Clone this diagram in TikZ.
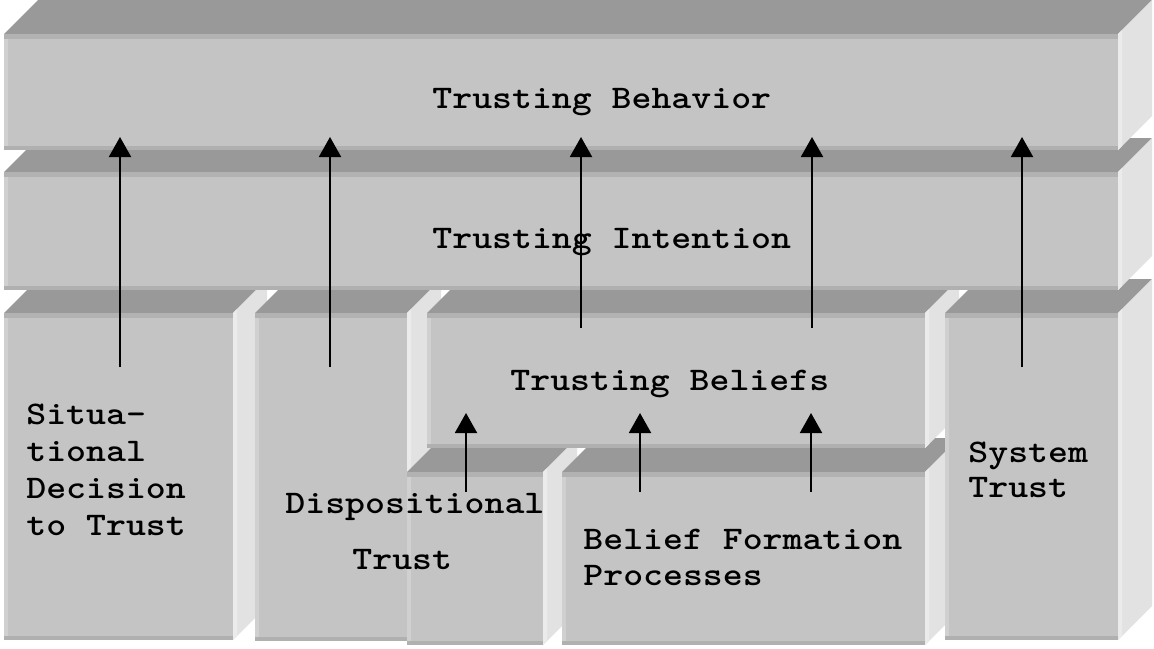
\documentclass[tikz,border=0pt]{standalone}
\usepackage{fontspec}
\setmonofont[FakeStretch=1.15, BoldFont=lmmonolt10-bold.otf]{lmmono10-regular.otf}
\usetikzlibrary{arrows.meta}

\definecolor{topface}{HTML}{999999}
\definecolor{frontface}{HTML}{C4C4C4}
\definecolor{sideface}{HTML}{E2E2E2}
\definecolor{sideedge}{HTML}{EBEBEB}
\definecolor{topedge}{HTML}{B2B2B2}
\definecolor{leftedge}{HTML}{D0D0D0}
\definecolor{bottomedge}{HTML}{B0B0B0}

% a slab: name, front face x1 y1 x2 y2 (depth 34)
\newcommand{\slab}[5]{%
  \fill[topface] (#2,#3) -- ({#2+34},{#3-34}) -- ({#4+34},{#3-34}) -- (#4,#3) -- cycle;
  \fill[sideface] (#4,#3) -- ({#4+34},{#3-34}) -- ({#4+34},{#5-34}) -- (#4,#5) -- cycle;
  \fill[sideedge] (#4,#3) -- ({#4+4},{#3-4}) -- ({#4+4},{#5-4}) -- (#4,#5) -- cycle;
  \fill[frontface] (#2,#3) rectangle (#4,#5);
  \fill[topedge] (#2,#3) rectangle (#4,{#3+5});
  \fill[leftedge] (#2,{#3+5}) rectangle ({#2+4},#5);
  \fill[bottomedge] (#2,{#5-4}) rectangle (#4,#5);
  \coordinate (#1) at ({(#2+#4)/2},{(#3+#5)/2});
}

\tikzset{
  lbl/.style={font=\ttfamily\bfseries\fontsize{16.5}{18}\selectfont,
    inner sep=0pt, anchor=base west},
  arr/.style={-{Triangle[length=10pt,width=11pt]}, line width=1pt}
}

\begin{document}
\begin{tikzpicture}[x=0.5pt,y=-0.5pt]
  \useasboundingbox (0,0) rectangle (1154,648);

  % back to front
  \slab{sit}{4}{313}{233}{640}
  \slab{disp}{255}{313}{407}{641}
  \slab{displow}{407}{472}{543}{645}
  \slab{bfp}{562}{472}{925}{645}
  \slab{tbel}{427}{313}{925}{448}
  \slab{sys}{945}{313}{1118}{640}
  \slab{tint}{4}{172}{1118}{290}
  \slab{tbeh}{4}{34}{1118}{150}

  % arrows
  \foreach \n/\x/\ya/\yb in {1/120/367/137, 2/330/367/137, 3/581/328/137,
      4/812/328/137, 5/1022/367/137, 6/466/492/413, 7/640/492/413, 8/811/492/413}
  {
    \coordinate (from\n) at (\x,\ya);
    \coordinate (to\n) at (\x,\yb);
    \draw[arr] (from\n) -- (to\n);
  }

  % labels
  \node[lbl] (beh) at (432,108) {Trusting Behavior};
  \node[lbl] (int) at (432,248) {Trusting Intention};
  \node[lbl] (bel) at (510,390) {Trusting Beliefs};

  \node[lbl] (sit1) at (26,424) {Situa-};
  \node[lbl] (sit2) at (26,461) {tional};
  \node[lbl] (sit3) at (26,498) {Decision};
  \node[lbl] (sit4) at (26,535) {to Trust};

  \node[lbl] (disp1) at (285,513) {Dispositional};
  \node[lbl] (disp2) at (352,569) {Trust};

  \node[lbl] (bfp1) at (583,549) {Belief Formation};
  \node[lbl] (bfp2) at (583,585) {Processes};

  \node[lbl] (sys1) at (968,462) {System};
  \node[lbl] (sys2) at (968,497) {Trust};
\end{tikzpicture}
\end{document}
